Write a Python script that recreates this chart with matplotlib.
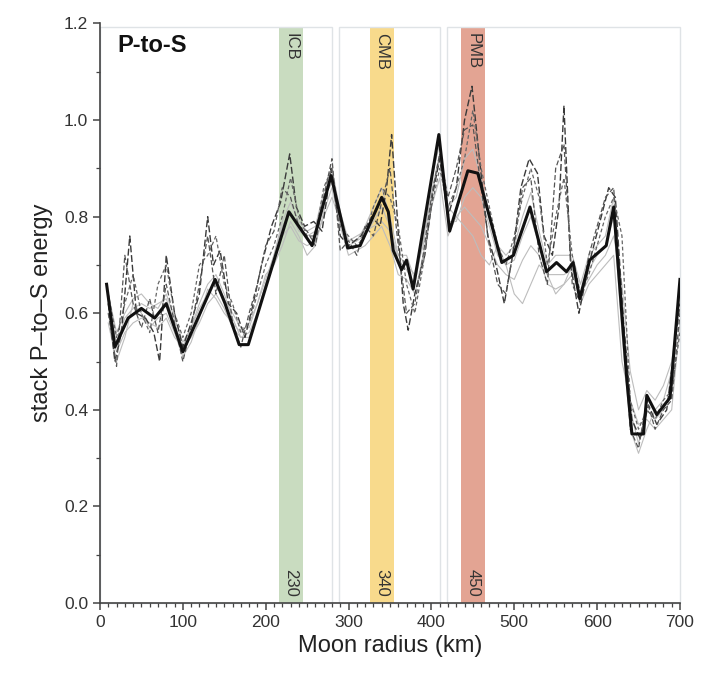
import matplotlib
matplotlib.use("Agg")
import matplotlib.pyplot as plt
from matplotlib.patches import Rectangle
from matplotlib.ticker import MultipleLocator

plt.rcParams['font.family'] = ['Liberation Sans', 'DejaVu Sans']

# ---- data ----
black_r = [8, 18, 34, 50, 66, 80, 100, 139, 151, 168, 179, 228, 256, 279, 299, 314, 340, 348, 354,
           364, 370, 378, 409, 422, 444, 456, 485, 499, 519, 539, 551, 563, 571, 579, 591, 611, 620,
           636, 642, 656, 660, 672, 688, 700]
black_v = [0.66, 0.53, 0.59, 0.61, 0.59, 0.62, 0.52, 0.67, 0.62, 0.535, 0.535, 0.81, 0.74, 0.885,
           0.735, 0.74, 0.84, 0.81, 0.73, 0.69, 0.71, 0.65, 0.97, 0.77, 0.895, 0.89, 0.705, 0.72,
           0.82, 0.686, 0.705, 0.686, 0.705, 0.63, 0.71, 0.74, 0.82, 0.46, 0.35, 0.35, 0.43, 0.39,
           0.425, 0.67]

grid_r = list(range(10, 701, 10))

light1 = [0.60, 0.52, 0.56, 0.58, 0.59, 0.58, 0.57, 0.59, 0.55, 0.53, 0.55, 0.58, 0.62, 0.64, 0.61,
          0.57, 0.55, 0.56, 0.60, 0.66, 0.71, 0.76, 0.78, 0.75, 0.74, 0.75, 0.80, 0.84, 0.79, 0.75,
          0.76, 0.77, 0.78, 0.79, 0.77, 0.72, 0.70, 0.68, 0.74, 0.84, 0.92, 0.82, 0.80, 0.82, 0.80,
          0.78, 0.74, 0.70, 0.68, 0.67, 0.71, 0.74, 0.72, 0.66, 0.65, 0.66, 0.68, 0.64, 0.67, 0.70,
          0.72, 0.76, 0.66, 0.48, 0.40, 0.44, 0.42, 0.45, 0.50, 0.62]
light2 = [0.64, 0.56, 0.60, 0.63, 0.64, 0.62, 0.61, 0.64, 0.59, 0.54, 0.57, 0.62, 0.66, 0.68, 0.64,
          0.59, 0.55, 0.55, 0.60, 0.66, 0.72, 0.79, 0.83, 0.79, 0.77, 0.78, 0.85, 0.90, 0.81, 0.75,
          0.75, 0.78, 0.82, 0.86, 0.80, 0.72, 0.72, 0.67, 0.77, 0.88, 0.95, 0.82, 0.84, 0.92, 0.94,
          0.88, 0.80, 0.74, 0.72, 0.74, 0.80, 0.85, 0.77, 0.70, 0.72, 0.72, 0.72, 0.66, 0.72, 0.74,
          0.76, 0.84, 0.62, 0.40, 0.33, 0.40, 0.38, 0.40, 0.44, 0.64]
light3 = [0.58, 0.50, 0.55, 0.62, 0.60, 0.57, 0.59, 0.60, 0.56, 0.51, 0.54, 0.59, 0.65, 0.63, 0.60,
          0.58, 0.56, 0.58, 0.62, 0.68, 0.70, 0.74, 0.79, 0.76, 0.72, 0.74, 0.81, 0.86, 0.78, 0.72,
          0.73, 0.74, 0.76, 0.78, 0.74, 0.68, 0.67, 0.64, 0.72, 0.82, 0.88, 0.76, 0.80, 0.78, 0.76,
          0.72, 0.70, 0.74, 0.70, 0.64, 0.62, 0.66, 0.70, 0.68, 0.64, 0.66, 0.70, 0.62, 0.66, 0.68,
          0.70, 0.72, 0.50, 0.42, 0.37, 0.38, 0.36, 0.38, 0.40, 0.58]
light4 = [0.62, 0.54, 0.59, 0.61, 0.62, 0.61, 0.62, 0.63, 0.58, 0.53, 0.57, 0.61, 0.64, 0.67, 0.63,
          0.60, 0.57, 0.57, 0.62, 0.67, 0.72, 0.78, 0.81, 0.77, 0.76, 0.77, 0.84, 0.87, 0.80, 0.74,
          0.75, 0.76, 0.79, 0.82, 0.78, 0.71, 0.69, 0.66, 0.75, 0.85, 0.93, 0.79, 0.79, 0.84, 0.86,
          0.84, 0.78, 0.72, 0.70, 0.71, 0.76, 0.80, 0.74, 0.68, 0.68, 0.68, 0.69, 0.63, 0.69, 0.72,
          0.74, 0.80, 0.56, 0.36, 0.31, 0.36, 0.40, 0.42, 0.48, 0.66]

dash1_r = [10, 18, 26, 36, 44, 55, 65, 72, 80, 90, 100, 110, 120, 130, 137, 145, 155, 165, 175, 185,
           195, 207, 218, 229, 237, 247, 258, 268, 279, 290, 300, 315, 328, 338, 346, 352, 358, 366,
           372, 380, 392, 402, 410, 420, 430, 440, 449, 458, 468, 478, 488, 498, 508, 518, 528, 536,
           546, 554, 560, 568, 578, 590, 602, 614, 622, 632, 642, 652, 662, 672, 684, 700]
dash1_v = [0.62, 0.50, 0.56, 0.76, 0.60, 0.59, 0.56, 0.50, 0.72, 0.60, 0.53, 0.58, 0.64, 0.80, 0.70,
           0.73, 0.62, 0.60, 0.55, 0.62, 0.70, 0.78, 0.83, 0.93, 0.82, 0.78, 0.79, 0.77, 0.90, 0.76,
           0.74, 0.76, 0.80, 0.78, 0.86, 0.97, 0.82, 0.62, 0.565, 0.64, 0.72, 0.85, 0.92, 0.80, 0.86,
           1.00, 1.07, 0.92, 0.76, 0.70, 0.62, 0.72, 0.86, 0.92, 0.89, 0.76, 0.72, 0.82, 1.03, 0.70,
           0.60, 0.70, 0.78, 0.86, 0.84, 0.58, 0.38, 0.34, 0.41, 0.37, 0.40, 0.62]
dash2 = [0.60, 0.49, 0.72, 0.62, 0.57, 0.63, 0.56, 0.66, 0.58, 0.50, 0.57, 0.66, 0.76, 0.64, 0.72,
         0.58, 0.53, 0.60, 0.66, 0.74, 0.77, 0.86, 0.84, 0.78, 0.77, 0.74, 0.84, 0.92, 0.73, 0.75,
         0.72, 0.78, 0.76, 0.83, 0.90, 0.74, 0.60, 0.62, 0.72, 0.84, 0.93, 0.84, 0.90, 0.98, 0.99,
         0.86, 0.74, 0.66, 0.64, 0.74, 0.86, 0.88, 0.72, 0.66, 0.90, 0.95, 0.66, 0.62, 0.72, 0.78,
         0.84, 0.86, 0.62, 0.36, 0.32, 0.42, 0.36, 0.40, 0.42, 0.60]
dash3 = [0.64, 0.55, 0.62, 0.68, 0.60, 0.56, 0.66, 0.70, 0.60, 0.55, 0.60, 0.70, 0.72, 0.76, 0.66,
         0.62, 0.56, 0.58, 0.64, 0.70, 0.74, 0.80, 0.88, 0.80, 0.76, 0.76, 0.86, 0.90, 0.78, 0.76,
         0.74, 0.76, 0.82, 0.86, 0.84, 0.78, 0.66, 0.60, 0.70, 0.82, 0.90, 0.82, 0.86, 0.92, 1.02,
         0.90, 0.82, 0.74, 0.70, 0.76, 0.84, 0.90, 0.84, 0.70, 0.80, 0.88, 0.72, 0.64, 0.68, 0.74,
         0.80, 0.84, 0.76, 0.42, 0.36, 0.40, 0.38, 0.42, 0.44, 0.56]

boundaries = ["ICB", "CMB", "PMB"]
boundary_depth = [230, 340, 450]
boundary_colors = ["#c9dcc0", "#f8da8c", "#e3a493"]
panels = [(0, 280), (288, 410), (419, 700)]

# ---- figure ----
fig = plt.figure(figsize=(7.12, 6.77), dpi=100)
ax = fig.add_axes([0.1404, 0.1093, 0.8146, 0.8560])
ax.set_xlim(0, 700)
ax.set_ylim(0, 1.2)

top = 1.192
for (a, b) in panels:
    ax.add_patch(Rectangle((a, 0), b - a, top, fill=False, edgecolor="#dfe3e6",
                           lw=1.0, zorder=1, clip_on=False))

for name, d, c in zip(boundaries, boundary_depth, boundary_colors):
    ax.axvspan(d - 14, d + 15, ymax=top / 1.2, color=c, lw=0, zorder=0.5)
    ax.text(d + 0.5, 1.18, name, rotation=270, ha="center", va="top",
            fontsize=12, color="#333333", zorder=5)
    ax.text(d + 0.5, 0.012, str(d), rotation=270, ha="center", va="bottom",
            fontsize=12, color="#333333", zorder=5)

for s in (light1, light2, light3, light4):
    ax.plot(grid_r, s, color="#bdbdbd", lw=0.8, zorder=2)

ax.plot(dash1_r, dash1_v, color="#3a3a3a", lw=1.0, dashes=(5, 2), zorder=3)
ax.plot(grid_r, dash2, color="#555555", lw=0.9, dashes=(4, 2), zorder=3)
ax.plot(grid_r, dash3, color="#666666", lw=0.9, dashes=(3, 2), zorder=3)

ax.plot(black_r, black_v, color="#111111", lw=2.2, zorder=4)

ax.text(0.03, 0.962, "P-to-S", transform=ax.transAxes, fontsize=17,
        fontweight="bold", ha="left", va="center", color="#111111")

for side in ("top", "right"):
    ax.spines[side].set_visible(False)
for side in ("left", "bottom"):
    ax.spines[side].set_color("#444444")
    ax.spines[side].set_linewidth(1.2)

ax.xaxis.set_major_locator(MultipleLocator(100))
ax.xaxis.set_minor_locator(MultipleLocator(10))
ax.yaxis.set_major_locator(MultipleLocator(0.2))
ax.yaxis.set_minor_locator(MultipleLocator(0.1))
ax.tick_params(axis="both", which="major", direction="out", length=5, width=1.1,
               color="#444444", labelsize=12.5, labelcolor="#333333")
ax.tick_params(axis="both", which="minor", direction="out", length=3, width=0.9,
               color="#444444")
ax.set_yticklabels([f"{v:.1f}" for v in ax.get_yticks()])

ax.set_xlabel("Moon radius (km)", fontsize=17, color="#222222", labelpad=4)
ax.set_ylabel("stack P\u2013to\u2013S energy", fontsize=17, color="#222222", labelpad=8)

fig.savefig("out.png", dpi=100, facecolor="white")
